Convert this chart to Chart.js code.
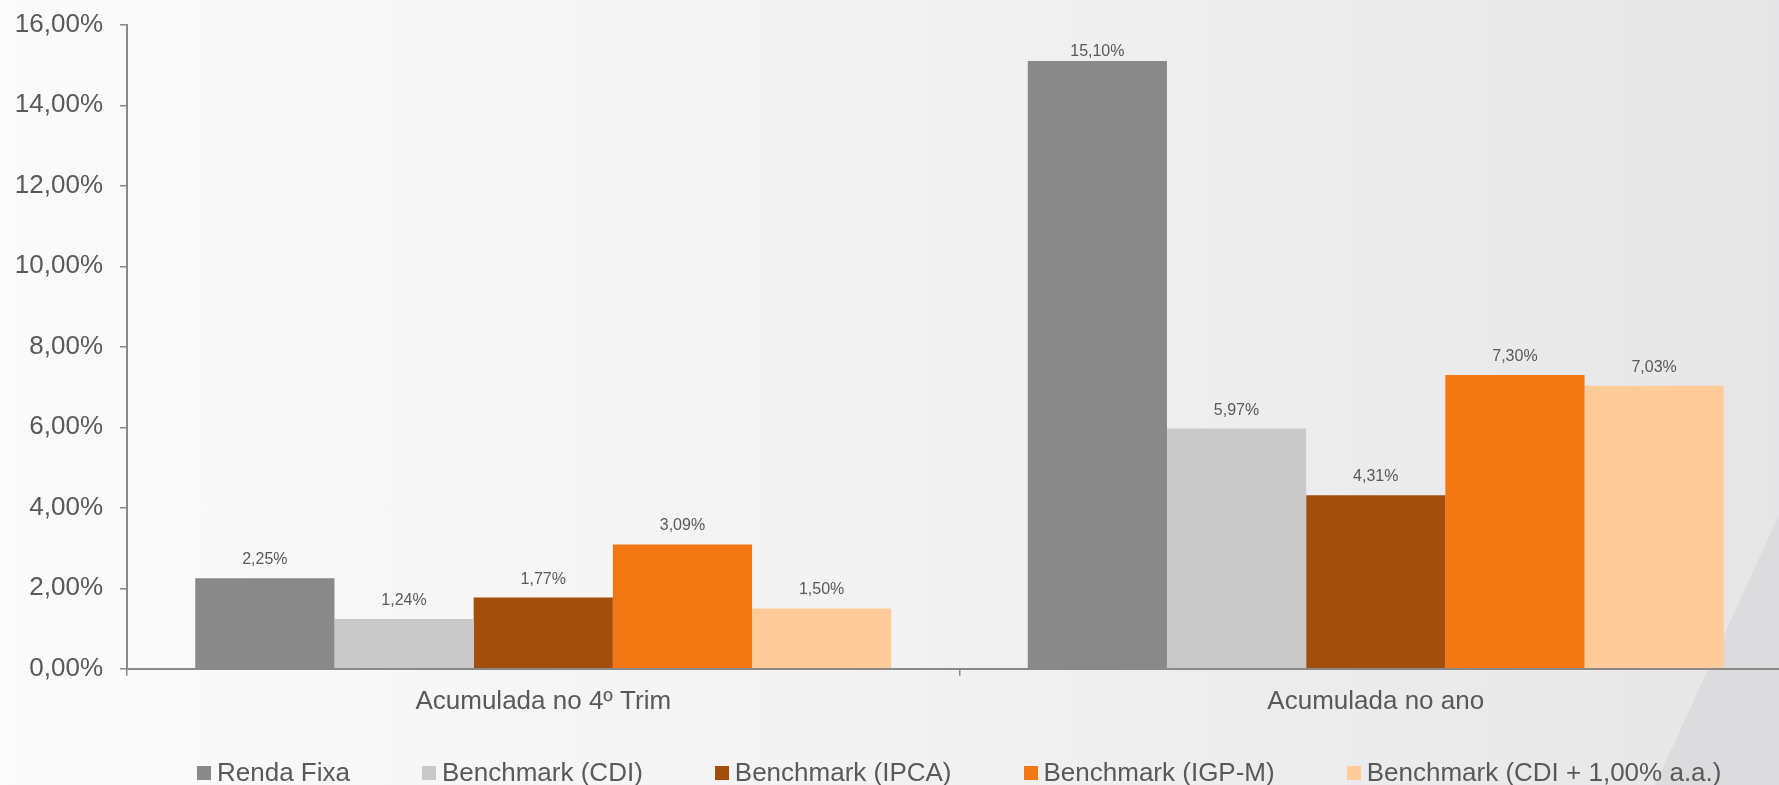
<!DOCTYPE html>
<html>
<head>
<meta charset="utf-8">
<script src="https://cdn.jsdelivr.net/npm/chart.js@4"></script>
<style>
html,body{margin:0;padding:0;}
body{width:1779px;height:785px;overflow:hidden;position:relative;
background:linear-gradient(to right,#fbfbfb 0%,#f2f2f3 50%,#e6e6e8 100%);
font-family:"Liberation Sans",Arial,sans-serif;}
.diag{position:absolute;left:0;top:0;width:1779px;height:785px;
background:#d6d6d8;clip-path:polygon(1779px 515px,1779px 785px,1655px 785px);opacity:.6;}
.wrap{position:absolute;left:0;top:0;width:1800px;height:785px;}
#legend{position:absolute;left:197px;top:757px;display:flex;align-items:center;font-size:26px;color:#595959;white-space:nowrap;}
#legend .it{display:flex;align-items:center;margin-right:72px;}
#legend .sq{width:14px;height:14px;margin-right:6px;}
</style>
</head>
<body>
<div class="diag"></div>
<div class="wrap"><canvas id="rendaChart"></canvas></div>
<div id="legend"></div>
<script>
const categorias = ["Acumulada no 4º Trim", "Acumulada no ano"];
const rendaFixa = [2.25, 15.10];
const cdi = [1.24, 5.97];
const ipca = [1.77, 4.31];
const igpm = [3.09, 7.30];
const cdiMais = [1.50, 7.03];
const yTicks = [0, 2, 4, 6, 8, 10, 12, 14, 16];

const fmt = v => v.toFixed(2).replace('.', ',') + '%';
const fonte = '"Liberation Sans", Arial, sans-serif';

// rótulos em cima das barras (sem encostar no topo)
const rotulos = {
  id: 'rotulos',
  afterDatasetsDraw(chart) {
    const ctx = chart.ctx;
    const topo = chart.chartArea.top + 31;
    ctx.save();
    ctx.font = '16px ' + fonte;
    ctx.fillStyle = '#595959';
    ctx.textAlign = 'center';
    ctx.textBaseline = 'alphabetic';
    chart.data.datasets.forEach((ds, i) => {
      chart.getDatasetMeta(i).data.forEach((bar, j) => {
        ctx.fillText(fmt(ds.data[j]), bar.x, Math.max(bar.y - 14, topo));
      });
    });
    ctx.restore();
  }
};

const chart = new Chart(document.getElementById('rendaChart'), {
  type: 'bar',
  data: {
    labels: categorias,
    datasets: [
      {label: "Renda Fixa", data: rendaFixa, backgroundColor: "#898989"},
      {label: "Benchmark (CDI)", data: cdi, backgroundColor: "#c9c9c9"},
      {label: "Benchmark (IPCA)", data: ipca, backgroundColor: "#a34f0b"},
      {label: "Benchmark (IGP-M)", data: igpm, backgroundColor: "#f37712"},
      {label: "Benchmark (CDI + 1,00% a.a.)", data: cdiMais, backgroundColor: "#fecb99"}
    ]
  },
  options: {
    responsive: true,
    maintainAspectRatio: false,
    animation: false,
    datasets: {bar: {barPercentage: 1, categoryPercentage: 0.836}},
    layout: {padding: {top: 9, left: 15, right: 8, bottom: 58}},
    plugins: {legend: {display: false}, tooltip: {enabled: false}},
    scales: {
      x: {
        grid: {display: true, drawOnChartArea: false, drawTicks: true, tickLength: 7, color: '#898989', lineWidth: 1.5},
        border: {color: '#898989', width: 2},
        ticks: {color: '#595959', font: {size: 26, family: fonte}, padding: 10}
      },
      y: {
        min: 0, max: 16,
        afterBuildTicks: axis => { axis.ticks = yTicks.map(v => ({value: v})); },
        afterFit: axis => { axis.width = 112; },
        grid: {display: true, drawOnChartArea: false, drawTicks: true, tickLength: 7, color: '#898989', lineWidth: 1.5},
        border: {color: '#898989', width: 2},
        ticks: {color: '#595959', font: {size: 26, family: fonte, lineHeight: 0.6}, padding: 17, callback: v => fmt(v)}
      }
    }
  },
  plugins: [rotulos]
});

// legenda em html
const leg = document.getElementById('legend');
chart.data.datasets.forEach(ds => {
  const it = document.createElement('div');
  it.className = 'it';
  it.innerHTML = '<span class="sq" style="background:' + ds.backgroundColor + '"></span>' + ds.label;
  leg.appendChild(it);
});
</script>
</body>
</html>
